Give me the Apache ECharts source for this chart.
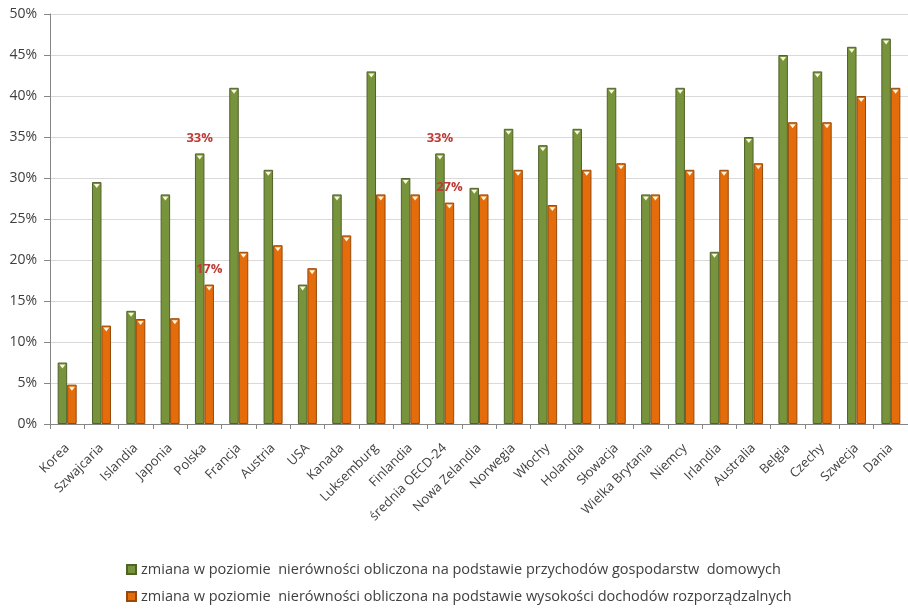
<!DOCTYPE html>
<html>
<head>
<meta charset="utf-8">
<script src="https://cdn.jsdelivr.net/npm/echarts@6/dist/echarts.min.js"></script>
<style>
  html, body { margin: 0; padding: 0; background: #fff; }
  #chart { width: 908px; height: 612px; }
</style>
</head>
<body>
<div id="chart"></div>
<script>
// Countries (with the OECD-24 average in the middle)
const categories = [
  'Korea', 'Szwajcaria', 'Islandia', 'Japonia', 'Polska', 'Francja', 'Austria',
  'USA', 'Kanada', 'Luksemburg', 'Finlandia', 'średnia OECD-24', 'Nowa Zelandia',
  'Norwegia', 'Włochy', 'Holandia', 'Słowacja', 'Wielka Brytania', 'Niemcy',
  'Irlandia', 'Australia', 'Belgia', 'Czechy', 'Szwecja', 'Dania'
];

// Change in inequality, %
const householdIncome = [
  7.5, 29.5, 13.8, 28, 33, 41, 31, 17, 28, 43, 30, 33, 28.8,
  36, 34, 36, 41, 28, 41, 21, 35, 45, 43, 46, 47
];
const disposableIncome = [
  4.8, 12, 12.8, 12.9, 17, 21, 21.8, 19, 23, 28, 28, 27, 28,
  31, 26.7, 31, 31.8, 28, 31, 31, 31.8, 36.8, 36.8, 40, 41
];

// Bars whose value is written above them
const labelledBars = ['Polska', 'średnia OECD-24'];

const seriesNames = [
  'zmiana w poziomie  nierówności obliczona na podstawie przychodów gospodarstw  domowych',
  'zmiana w poziomie  nierówności obliczona na podstawie wysokości dochodów rozporządzalnych'
];

const yTicks = { min: 0, max: 50, interval: 5 };

const FONT = '"Open Sans", "Noto Sans", sans-serif';
const TEXT = '#404040';
const LABEL_RED = '#be3a34';

function barData(values) {
  return values.map(function (v, i) {
    if (labelledBars.indexOf(categories[i]) >= 0) {
      return {
        value: v,
        label: {
          show: true,
          position: 'top',
          distance: 9,
          formatter: Math.round(v) + '%',
          color: LABEL_RED,
          fontFamily: FONT,
          fontSize: 13,
          fontWeight: 'bold'
        }
      };
    }
    return v;
  });
}

// small bevel highlight at the top of every bar
function bevelMarks(values) {
  return {
    silent: true,
    symbol: 'triangle',
    symbolRotate: 180,
    symbolSize: [6, 4],
    symbolOffset: [0, 4],
    itemStyle: { color: '#fbf6dc' },
    label: { show: false },
    data: values.map(function (v, i) { return { coord: [i, v] }; })
  };
}

function makeSeries(name, values, fill, edge) {
  return {
    name: name,
    type: 'bar',
    data: barData(values),
    barWidth: 9.5,
    barGap: '0%',
    itemStyle: { color: fill, borderColor: edge, borderWidth: 1 },
    emphasis: { disabled: true },
    markPoint: bevelMarks(values)
  };
}

const chart = echarts.init(document.getElementById('chart'), null, { renderer: 'canvas' });

chart.setOption({
  animation: false,
  backgroundColor: '#ffffff',
  grid: { left: 50, right: 0, top: 14, bottom: 188, containLabel: false },
  legend: {
    orient: 'vertical',
    left: 121,
    top: 557,
    itemWidth: 9,
    itemHeight: 9,
    itemGap: 12,
    icon: 'rect',
    textStyle: { color: TEXT, fontFamily: FONT, fontSize: 14.5 },
    data: seriesNames
  },
  xAxis: {
    type: 'category',
    data: categories,
    axisLine: { lineStyle: { color: '#868686' } },
    axisTick: { show: true, interval: 0, length: 5, lineStyle: { color: '#868686' } },
    axisLabel: {
      interval: 0,
      rotate: 45,
      margin: 22,
      color: TEXT,
      fontFamily: FONT,
      fontSize: 13
    },
    splitLine: { show: false }
  },
  yAxis: {
    type: 'value',
    min: yTicks.min,
    max: yTicks.max,
    interval: yTicks.interval,
    axisLine: { show: true, lineStyle: { color: '#868686' } },
    axisTick: { show: true, length: 6, lineStyle: { color: '#868686' } },
    axisLabel: {
      formatter: '{value}%',
      margin: 13,
      color: TEXT,
      fontFamily: FONT,
      fontSize: 14
    },
    splitLine: { lineStyle: { color: '#d9d9d9' } }
  },
  series: [
    makeSeries(seriesNames[0], householdIncome, '#77933c', '#4f6228'),
    makeSeries(seriesNames[1], disposableIncome, '#e46c0a', '#984807')
  ]
});
</script>
</body>
</html>
